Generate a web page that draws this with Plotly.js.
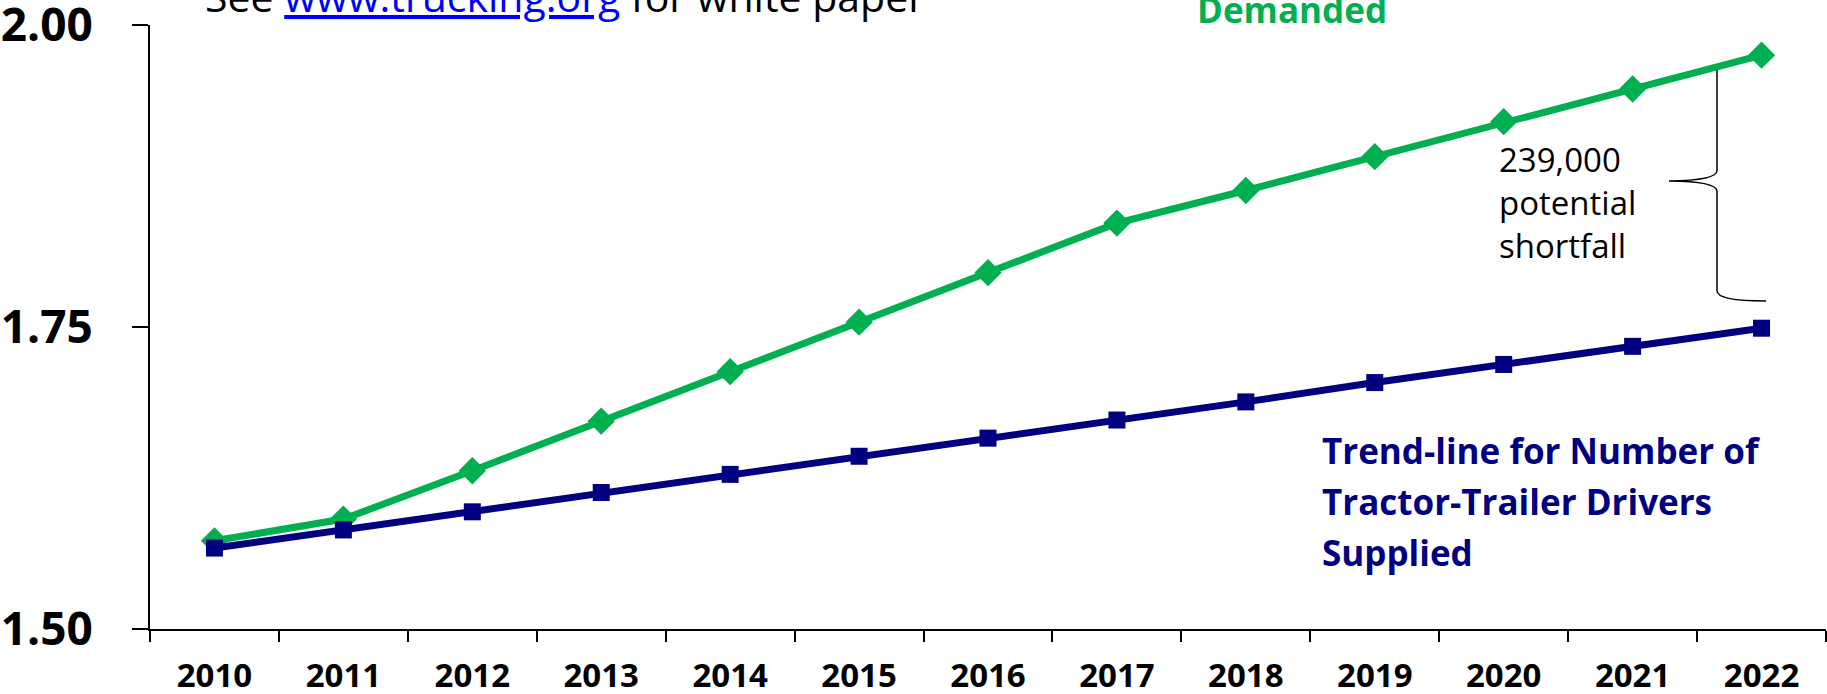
<!DOCTYPE html>
<html>
<head>
<meta charset="utf-8">
<script src="https://cdn.plot.ly/plotly-3.0.1.min.js"></script>
<style>
  html, body { margin: 0; padding: 0; background: #ffffff; }
  #chart { width: 1827px; height: 694px; }
</style>
</head>
<body>
<div id="chart"></div>
<script>
// values (millions of drivers)
var years = ['2010', '2011', '2012', '2013', '2014', '2015', '2016',
             '2017', '2018', '2019', '2020', '2021', '2022'];
var demanded = [1.573, 1.591, 1.631, 1.672, 1.713, 1.754, 1.795,
                1.836, 1.863, 1.891, 1.920, 1.947, 1.975];
var supplied = [1.567, 1.582, 1.597, 1.613, 1.628, 1.643, 1.658,
                1.673, 1.688, 1.704, 1.719, 1.734, 1.749];
var yTicks = [1.50, 1.75, 2.00];
var yTickText = ['1.50', '1.75', '2.00'];
var suppliedLabel = ['Trend-line for Number of', 'Tractor-Trailer Drivers', 'Supplied'];
var shortfallLabel = '239,000<br>potential<br>shortfall';

var green = '#00B050';
var navy = '#000080';

// plot box in pixels, used to place the free text
var L = 150, T = 25, W = 1676, H = 604;
function px(x) { return (x - L) / W; }
function py(y) { return (T + H - y) / H; }

var traceDemanded = {
  x: years,
  y: demanded,
  name: 'Demanded',
  type: 'scatter',
  mode: 'lines+markers',
  cliponaxis: false,
  line: { color: green, width: 7 },
  marker: { symbol: 'diamond', size: 21, color: green }
};

var traceSupplied = {
  x: years,
  y: supplied,
  name: 'Supplied',
  type: 'scatter',
  mode: 'lines+markers',
  cliponaxis: false,
  line: { color: navy, width: 7 },
  marker: { symbol: 'square', size: 17, color: navy }
};

var annotations = [
  {
    xref: 'paper', yref: 'paper', x: px(203), y: py(-4),
    xanchor: 'left', yanchor: 'middle', showarrow: false,
    text: 'See <span style="color:#0000FF;text-decoration:underline">www.trucking.org</span> for white paper',
    font: { family: 'Open Sans', size: 41, color: '#000000' }
  },
  {
    xref: 'paper', yref: 'paper', x: px(1195), y: py(9),
    xanchor: 'left', yanchor: 'middle', showarrow: false,
    text: 'Demanded',
    font: { family: 'Open Sans', size: 35, weight: 'bold', color: green }
  },
  {
    xref: 'paper', yref: 'paper', x: px(1497), y: py(202),
    xanchor: 'left', yanchor: 'middle', align: 'left', showarrow: false,
    text: shortfallLabel,
    font: { family: 'Open Sans', size: 33, color: '#000000' }
  }
];
suppliedLabel.forEach(function (line, i) {
  annotations.push({
    xref: 'paper', yref: 'paper', x: px(1320), y: py(450 + i * 51),
    xanchor: 'left', yanchor: 'middle', showarrow: false,
    text: line,
    font: { family: 'Open Sans', size: 35, weight: 'bold', color: navy }
  });
});

// curly brace marking the gap in 2022
var bx = px(1717), tipX = px(1669), endX = px(1766);
var brace = 'M ' + bx + ',1.9627 L ' + bx + ',1.8795' +
  ' Q ' + bx + ',1.8712 ' + tipX + ',1.8709' +
  ' Q ' + bx + ',1.8706 ' + bx + ',1.8623' +
  ' L ' + bx + ',1.7800' +
  ' Q ' + bx + ',1.7715 ' + endX + ',1.7715';

var layout = {
  width: 1827,
  height: 694,
  margin: { l: L, r: 1827 - L - W, t: T, b: 694 - T - H, pad: 0 },
  paper_bgcolor: '#ffffff',
  plot_bgcolor: '#ffffff',
  showlegend: false,
  xaxis: {
    type: 'category',
    range: [-0.5, 12.5],
    tickson: 'boundaries',
    ticks: 'outside',
    ticklen: 11,
    tickwidth: 2,
    tickcolor: '#000000',
    showline: true,
    linewidth: 2,
    linecolor: '#000000',
    showgrid: false,
    zeroline: false,
    ticklabelstandoff: 16,
    ticklabeloverflow: 'allow',
    tickfont: { family: 'Open Sans', size: 33, weight: 'bold', color: '#000000' }
  },
  yaxis: {
    range: [1.5, 2.0],
    tickmode: 'array',
    tickvals: yTicks,
    ticktext: yTickText,
    ticks: 'outside',
    ticklen: 16,
    tickwidth: 2,
    tickcolor: '#000000',
    showline: true,
    linewidth: 2,
    linecolor: '#000000',
    showgrid: false,
    zeroline: false,
    ticklabelstandoff: 30,
    ticklabeloverflow: 'allow',
    tickfont: { family: 'Open Sans', size: 46, weight: 'bold', color: '#000000' }
  },
  annotations: annotations,
  shapes: [
    {
      type: 'path', xref: 'paper', yref: 'y', path: brace,
      line: { color: '#000000', width: 1.5 }
    }
  ]
};

var config = { responsive: false, displayModeBar: false, staticPlot: true };
Plotly.newPlot('chart', [traceDemanded, traceSupplied], layout, config);
</script>
</body>
</html>
